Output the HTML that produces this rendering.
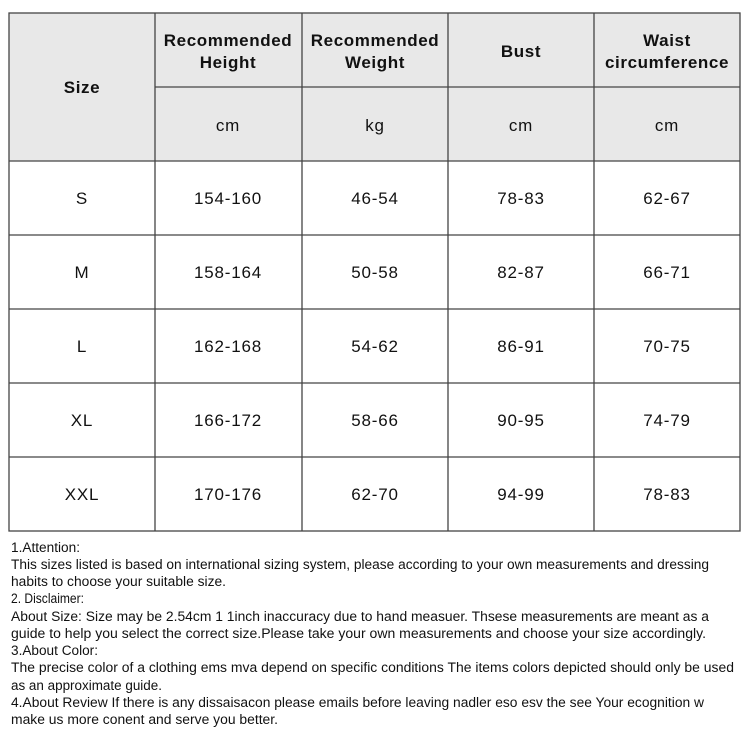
<!DOCTYPE html>
<html><head><style>
body{margin:0;width:750px;height:750px;background:#fff;overflow:hidden;font-family:"Liberation Sans",Arial,sans-serif;}
svg{position:absolute;left:0;top:0}
</style></head><body>
<svg width="750" height="750" xmlns="http://www.w3.org/2000/svg" font-family="Liberation Sans, Arial, sans-serif">
<rect x="9" y="13" width="731" height="148" fill="#e8e8e8"/>
<g stroke="#444" stroke-width="1.3" fill="none">
<rect x="9" y="13" width="731" height="518"/>
<line x1="155" y1="87" x2="740" y2="87"/>
<line x1="9" y1="161" x2="740" y2="161"/>
<line x1="9" y1="235" x2="740" y2="235"/>
<line x1="9" y1="309" x2="740" y2="309"/>
<line x1="9" y1="383" x2="740" y2="383"/>
<line x1="9" y1="457" x2="740" y2="457"/>
<line x1="155" y1="13" x2="155" y2="531"/>
<line x1="302" y1="13" x2="302" y2="531"/>
<line x1="448" y1="13" x2="448" y2="531"/>
<line x1="594" y1="13" x2="594" y2="531"/>
</g>
<g font-size="17" font-weight="bold" fill="#111" text-anchor="middle" letter-spacing="0.6">
<text x="82" y="93">Size</text>
<text x="228" y="46">Recommended</text><text x="228" y="68">Height</text>
<text x="375" y="46">Recommended</text><text x="375" y="68">Weight</text>
<text x="521" y="57">Bust</text>
<text x="667" y="46">Waist</text><text x="667" y="68">circumference</text>
</g>
<g font-size="17" fill="#111" text-anchor="middle" letter-spacing="0.8">
<text x="228" y="131">cm</text><text x="375" y="131">kg</text><text x="521" y="131">cm</text><text x="667" y="131">cm</text>
<text x="82" y="204">S</text><text x="228" y="204">154-160</text><text x="375" y="204">46-54</text><text x="521" y="204">78-83</text><text x="667" y="204">62-67</text>
<text x="82" y="278">M</text><text x="228" y="278">158-164</text><text x="375" y="278">50-58</text><text x="521" y="278">82-87</text><text x="667" y="278">66-71</text>
<text x="82" y="352">L</text><text x="228" y="352">162-168</text><text x="375" y="352">54-62</text><text x="521" y="352">86-91</text><text x="667" y="352">70-75</text>
<text x="82" y="426">XL</text><text x="228" y="426">166-172</text><text x="375" y="426">58-66</text><text x="521" y="426">90-95</text><text x="667" y="426">74-79</text>
<text x="82" y="500">XXL</text><text x="228" y="500">170-176</text><text x="375" y="500">62-70</text><text x="521" y="500">94-99</text><text x="667" y="500">78-83</text>
</g>
<g font-size="13.5" fill="#111">
<text x="11" y="552" textLength="69" lengthAdjust="spacingAndGlyphs">1.Attention:</text>
<text x="11" y="569" textLength="698" lengthAdjust="spacingAndGlyphs">This sizes listed is based on international sizing system, please according to your own measurements and dressing</text>
<text x="11" y="586" textLength="215" lengthAdjust="spacingAndGlyphs">habits to choose your suitable size.</text>
<text x="11" y="603" textLength="73" lengthAdjust="spacingAndGlyphs">2. Disclaimer:</text>
<text x="11" y="621" textLength="698" lengthAdjust="spacingAndGlyphs">About Size: Size may be 2.54cm 1 1inch inaccuracy due to hand measuer. Thsese measurements are meant as a</text>
<text x="11" y="638" textLength="695" lengthAdjust="spacingAndGlyphs">guide to help you select the correct size.Please take your own measurements and choose your size accordingly.</text>
<text x="11" y="655" textLength="87" lengthAdjust="spacingAndGlyphs">3.About Color:</text>
<text x="11" y="672" textLength="723" lengthAdjust="spacingAndGlyphs">The precise color of a clothing ems mva depend on specific conditions The items colors depicted should only be   used</text>
<text x="11" y="690" textLength="151" lengthAdjust="spacingAndGlyphs">as an approximate guide.</text>
<text x="11" y="707" textLength="693" lengthAdjust="spacingAndGlyphs">4.About Review If there is any dissaisacon please emails before leaving nadler eso esv the see Your ecognition w</text>
<text x="11" y="724" textLength="267" lengthAdjust="spacingAndGlyphs">make us more conent and serve you better.</text>
</g>
</svg>
</body></html>
